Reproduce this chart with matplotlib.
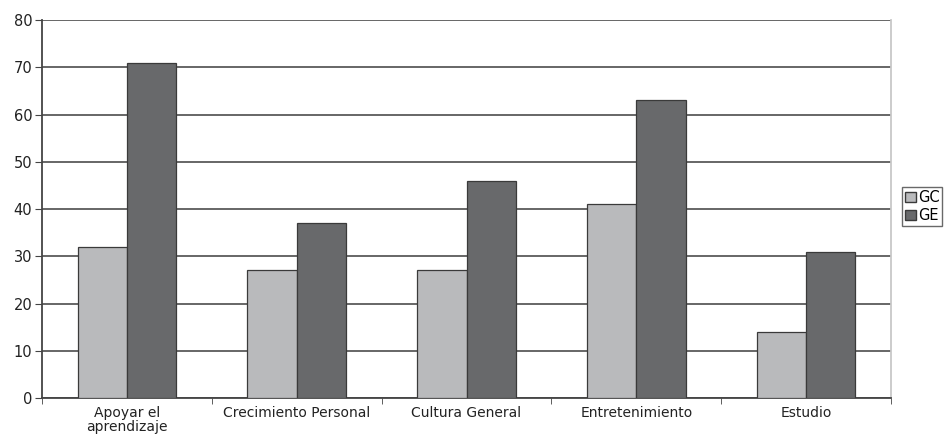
import numpy as np
import matplotlib.pyplot as plt
from matplotlib.patches import Patch

categories = ['Apoyar el\naprendizaje', 'Crecimiento Personal', 'Cultura General',
              'Entretenimiento', 'Estudio']
gc_values = [32, 27, 27, 41, 14]
ge_values = [71, 37, 46, 63, 31]
series_names = ['GC', 'GE']

fig = plt.figure(figsize=(9.48, 4.47), dpi=100)
ax = fig.add_axes([0.0443, 0.1096, 0.8957, 0.8454])

x = np.arange(len(categories))
w = 0.29
ax.bar(x - w / 2, gc_values, w, color='#b9babc', edgecolor='#3a3a3a', linewidth=0.9, zorder=3)
ax.bar(x + w / 2, ge_values, w, color='#68696b', edgecolor='#3a3a3a', linewidth=0.9, zorder=3)

ax.set_xlim(-0.5, len(categories) - 0.5)
ax.set_ylim(0, 80)
ax.set_yticks(range(0, 81, 10))
ax.yaxis.grid(True, color='#5a5a5a', linewidth=1.3, zorder=0)

ax.set_xticks(x)
ax.set_xticklabels(categories, fontsize=10, color='#222222', linespacing=0.95)
ax.tick_params(axis='x', which='major', length=0, pad=6)
ax.set_xticks(np.arange(-0.5, len(categories)), minor=True)
ax.tick_params(axis='x', which='minor', length=4, color='#444444')
ax.tick_params(axis='y', length=5, color='#444444', labelsize=10.5, labelcolor='#222222', pad=2)

for s in ['left', 'bottom']:
    ax.spines[s].set_color('#444444')
    ax.spines[s].set_linewidth(1.3)
ax.spines['top'].set_visible(False)
ax.spines['right'].set_color('#c8c8c8')
ax.spines['right'].set_linewidth(1.3)

handles = [Patch(facecolor='#b9babc', edgecolor='#3a3a3a'),
           Patch(facecolor='#68696b', edgecolor='#3a3a3a')]
fig.legend(handles, series_names, loc='upper left', bbox_to_anchor=(0.952, 0.582),
           fontsize=10.5, frameon=True, fancybox=False, edgecolor='#444444',
           handlelength=0.7, handleheight=0.7, handletextpad=0.15,
           borderpad=0.2, labelspacing=0.25, borderaxespad=0)

fig.savefig('out.png', dpi=100)
